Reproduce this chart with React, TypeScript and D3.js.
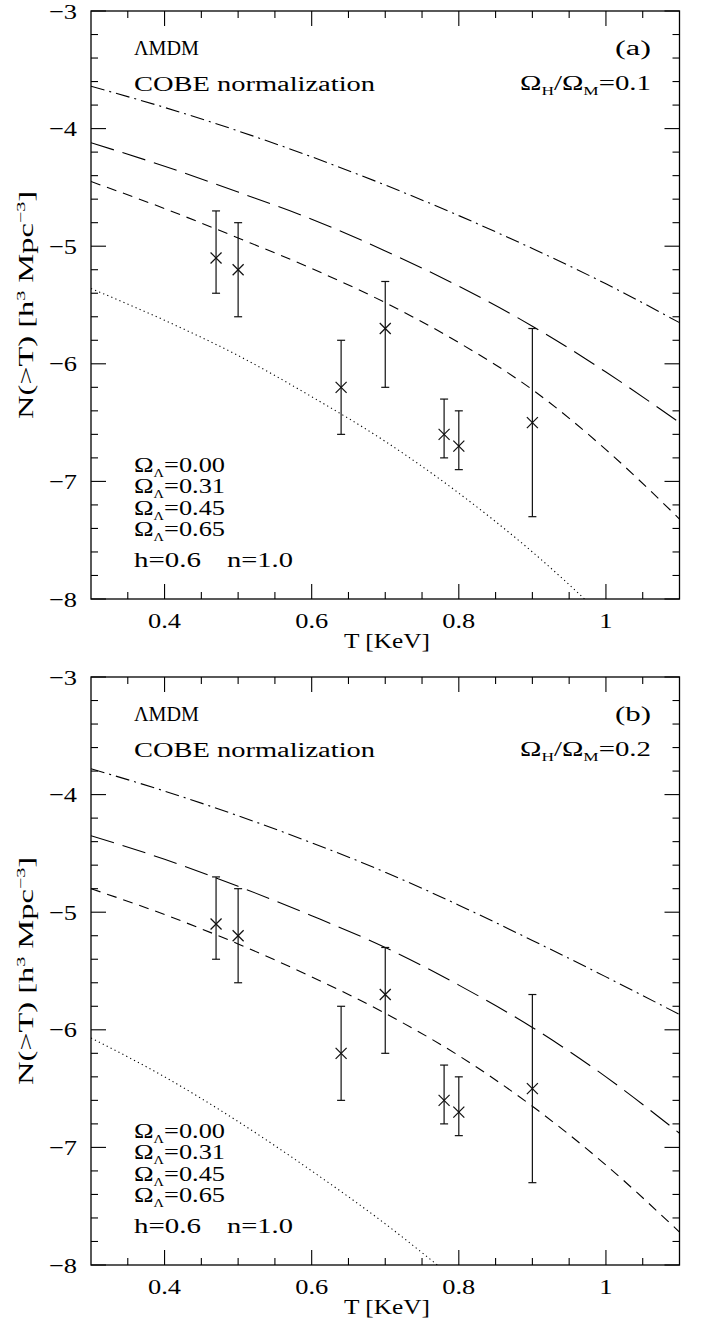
import React from "react";
import * as d3 from "d3";

// Observed cluster temperature function (same data in both panels)
const T_OBS = [0.47, 0.5, 0.64, 0.7, 0.78, 0.8, 0.9];
const N_OBS = [-5.1, -5.2, -6.2, -5.7, -6.6, -6.7, -6.5];
const N_HI = [-4.7, -4.8, -5.8, -5.3, -6.3, -6.4, -5.7];
const N_LO = [-5.4, -5.6, -6.6, -6.2, -6.8, -6.9, -7.3];

// Model temperature grid
const T_MODEL = [0.3, 0.4, 0.5, 0.6, 0.7, 0.8, 0.9, 1.0, 1.1];

// Panel (a): Omega_H/Omega_M = 0.1
const A_DOTTED = [-5.36, -5.63, -5.93, -6.28, -6.66, -7.1, -7.6, -8.17];
const A_SHORT = [-4.45, -4.68, -4.93, -5.19, -5.48, -5.82, -6.22, -6.73, -7.32];
const A_LONG = [-4.12, -4.32, -4.54, -4.77, -5.04, -5.34, -5.68, -6.07, -6.5];
const A_DASHDOT = [-3.64, -3.82, -4.02, -4.24, -4.48, -4.74, -5.02, -5.32, -5.65];

// Panel (b): Omega_H/Omega_M = 0.2
const B_DOTTED = [-6.07, -6.4, -6.78, -7.2, -7.65, -8.15];
const B_SHORT = [-4.8, -5.02, -5.27, -5.55, -5.86, -6.22, -6.65, -7.15, -7.72];
const B_LONG = [-4.35, -4.55, -4.78, -5.03, -5.3, -5.62, -5.98, -6.4, -6.88];
const B_DASHDOT = [-3.78, -3.97, -4.18, -4.41, -4.66, -4.94, -5.24, -5.55, -5.87];

const X_TICKS = [0.4, 0.6, 0.8, 1.0];
const X_TICK_LABELS = ["0.4", "0.6", "0.8", "1"];
const Y_TICKS = [-3, -4, -5, -6, -7, -8];
const Y_TICK_LABELS = ["\u22123", "\u22124", "\u22125", "\u22126", "\u22127", "\u22128"];
const OMEGA_L = ["0.00", "0.31", "0.45", "0.65"];

const W = 706;
const H = 1333;
const X0 = 91;
const X1 = 679.5;
const PH = 588;
const FONT = "'Liberation Serif', 'Times New Roman', serif";

const DASH = {
  dotted: "1.2,3.2",
  short: "10,7",
  long: "24,9",
  dashdot: "14,5,2,5",
};

type PanelProps = {
  top: number;
  tag: string;
  ratio: string;
  dotted: number[];
  short: number[];
  long: number[];
  dashdot: number[];
  id: string;
};

function Panel({ top, tag, ratio, dotted, short, long, dashdot, id }: PanelProps) {
  const x = d3.scaleLinear().domain([0.3, 1.1]).range([X0, X1]);
  const y = d3.scaleLinear().domain([-8, -3]).range([top + PH, top]);
  const bottom = top + PH;

  const line = d3
    .line<[number, number]>()
    .x((d) => x(d[0]))
    .y((d) => y(d[1]))
    .curve(d3.curveMonotoneX);
  const pts = (vals: number[]) => vals.map((v, i) => [T_MODEL[i], v] as [number, number]);

  const xMinor = d3.range(7, 22).map((k) => k * 0.05);
  const yMinor = d3.range(-40, -14).map((k) => k * 0.2);

  const curves: [number[], string][] = [
    [dotted, DASH.dotted],
    [short, DASH.short],
    [long, DASH.long],
    [dashdot, DASH.dashdot],
  ];

  return (
    <g>
      <defs>
        <clipPath id={id}>
          <rect x={X0} y={top} width={X1 - X0} height={PH} />
        </clipPath>
      </defs>

      {/* model curves */}
      <g clipPath={`url(#${id})`} fill="none" stroke="#000" strokeWidth={1.1}>
        {curves.map(([vals, dash], i) => (
          <path key={i} d={line(pts(vals)) || ""} strokeDasharray={dash} />
        ))}
      </g>

      {/* observed points with error bars */}
      <g stroke="#111" strokeWidth={1.2} fill="none">
        {T_OBS.map((t, i) => {
          const cx = x(t);
          const cy = y(N_OBS[i]);
          const s = 5.5;
          return (
            <g key={i}>
              <line x1={cx} x2={cx} y1={y(N_HI[i])} y2={y(N_LO[i])} />
              <line x1={cx - 4} x2={cx + 4} y1={y(N_HI[i])} y2={y(N_HI[i])} />
              <line x1={cx - 4} x2={cx + 4} y1={y(N_LO[i])} y2={y(N_LO[i])} />
              <line x1={cx - s} x2={cx + s} y1={cy - s} y2={cy + s} />
              <line x1={cx - s} x2={cx + s} y1={cy + s} y2={cy - s} />
            </g>
          );
        })}
      </g>

      {/* frame and ticks */}
      <rect x={X0} y={top} width={X1 - X0} height={PH} fill="none" stroke="#000" strokeWidth={1.3} />
      <g stroke="#000" strokeWidth={1.1}>
        {xMinor.map((t, i) => {
          const major = X_TICKS.some((m) => Math.abs(m - t) < 1e-6);
          const len = major ? 15 : 7;
          return (
            <g key={i}>
              <line x1={x(t)} x2={x(t)} y1={bottom} y2={bottom - len} />
              <line x1={x(t)} x2={x(t)} y1={top} y2={top + len} />
            </g>
          );
        })}
        {yMinor.map((v, i) => {
          const major = Math.abs(v - Math.round(v)) < 1e-6;
          const len = major ? 15 : 7;
          return (
            <g key={i}>
              <line x1={X0} x2={X0 + len} y1={y(v)} y2={y(v)} />
              <line x1={X1} x2={X1 - len} y1={y(v)} y2={y(v)} />
            </g>
          );
        })}
      </g>

      {/* tick labels */}
      <g fontFamily={FONT} fontSize={22} fill="#000">
        {X_TICKS.map((t, i) => (
          <g key={i} transform={`translate(${x(t)},${bottom + 29}) scale(1.2,1)`}>
            <text textAnchor="middle">{X_TICK_LABELS[i]}</text>
          </g>
        ))}
        {Y_TICKS.map((v, i) => (
          <g key={i} transform={`translate(77,${y(v) + 7.5}) scale(1.2,1)`}>
            <text textAnchor="end">{Y_TICK_LABELS[i]}</text>
          </g>
        ))}
      </g>

      {/* axis titles */}
      <g fontFamily={FONT} fill="#000">
        <text x={344} y={bottom + 49} fontSize={21} textLength={86} lengthAdjust="spacingAndGlyphs">
          T [KeV]
        </text>
        <text
          transform={`translate(33,${top + PH / 2 + 114}) rotate(-90)`}
          fontSize={21}
          textLength={228}
          lengthAdjust="spacingAndGlyphs"
        >
          N(&gt;T) [h<tspan fontSize={13} dy={-8}>3</tspan>
          <tspan dy={8}> Mpc</tspan>
          <tspan fontSize={13} dy={-8}>{"\u22123"}</tspan>
          <tspan dy={8}>]</tspan>
        </text>
      </g>

      {/* annotations */}
      <g fontFamily={FONT} fill="#000">
        <text x={134} y={top + 44} fontSize={20} textLength={65} lengthAdjust="spacingAndGlyphs">
          ΛMDM
        </text>
        <text x={134} y={top + 80} fontSize={20} textLength={241} lengthAdjust="spacingAndGlyphs">
          COBE normalization
        </text>
        <text x={615} y={top + 44} fontSize={20} textLength={36} lengthAdjust="spacingAndGlyphs">
          {tag}
        </text>
        <text x={520} y={top + 79} fontSize={20} textLength={131} lengthAdjust="spacingAndGlyphs">
          Ω<tspan fontSize={12} dy={5}>H</tspan>
          <tspan dy={-5}>/Ω</tspan>
          <tspan fontSize={12} dy={5}>M</tspan>
          <tspan dy={-5}>={ratio}</tspan>
        </text>

        {OMEGA_L.map((v, i) => (
          <text
            key={v}
            x={134}
            y={top + 461 + i * 21.3}
            fontSize={22}
            textLength={91}
            lengthAdjust="spacingAndGlyphs"
          >
            Ω<tspan fontSize={12} dy={5}>Λ</tspan>
            <tspan dy={-5}>={v}</tspan>
          </text>
        ))}
        <text x={134} y={top + 556} fontSize={22} textLength={67} lengthAdjust="spacingAndGlyphs">
          h=0.6
        </text>
        <text x={227} y={top + 556} fontSize={22} textLength={66} lengthAdjust="spacingAndGlyphs">
          n=1.0
        </text>
      </g>
    </g>
  );
}

export default function App() {
  return (
    <svg
      width={W}
      height={H}
      viewBox={`0 0 ${W} ${H}`}
      style={{ position: "absolute", left: 0, top: 0, background: "#fff" }}
    >
      <rect width={W} height={H} fill="#fff" />
      <Panel
        id="clip-a"
        top={11}
        tag="(a)"
        ratio="0.1"
        dotted={A_DOTTED}
        short={A_SHORT}
        long={A_LONG}
        dashdot={A_DASHDOT}
      />
      <Panel
        id="clip-b"
        top={677}
        tag="(b)"
        ratio="0.2"
        dotted={B_DOTTED}
        short={B_SHORT}
        long={B_LONG}
        dashdot={B_DASHDOT}
      />
    </svg>
  );
}
